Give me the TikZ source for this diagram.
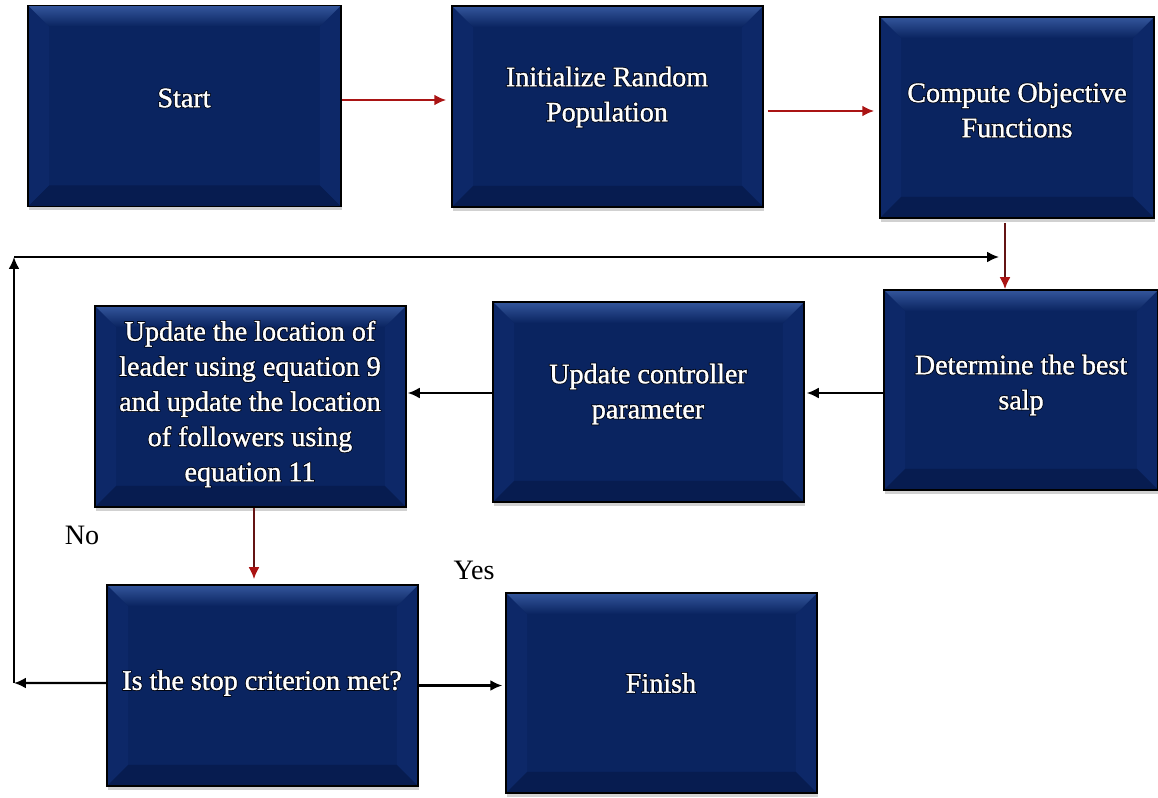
\documentclass[tikz,border=0pt]{standalone}
\usepackage{fontspec}
\setmainfont{Liberation Serif}
\newfontfamily\glowfont[FakeBold=7]{Liberation Serif}
\newfontfamily\capfont[FakeBold=1.2]{Liberation Serif}
\usetikzlibrary{arrows.meta,shadows}

\definecolor{boxface}{RGB}{10,36,96}
\definecolor{bevtop}{RGB}{52,86,156}
\definecolor{bevside}{RGB}{13,40,104}
\definecolor{bevbottom}{RGB}{7,28,80}
\definecolor{textglow}{RGB}{0,3,14}
\definecolor{flowred}{RGB}{170,20,20}
\definecolor{flowdark}{RGB}{100,20,20}

\newlength{\bev}
\setlength{\bev}{0.42cm}

% white caption with a dark halo underneath
\newcommand{\boxcaption}[3]{%
  \node[glowtext] (#1-glow) at #2 {#3};
  \node[whitetext] (#1-text) at #2 {#3};}

\tikzset{
  stepbox/.style={
    draw=black, line width=0.9pt, fill=boxface,
    minimum width=6.22cm, minimum height=4.02cm, inner sep=0pt,
    drop shadow={shadow xshift=0.02cm, shadow yshift=-0.08cm,
                 fill=black!30, opacity=0.6},
    path picture={
      \path (path picture bounding box.north west) coordinate (bbnw)
            (path picture bounding box.north east) coordinate (bbne)
            (path picture bounding box.south west) coordinate (bbsw)
            (path picture bounding box.south east) coordinate (bbse);
      \fill[bevside] (bbnw) -- ([shift={(\bev,-\bev)}]bbnw)
        -- ([shift={(\bev,\bev)}]bbsw) -- (bbsw) -- cycle;
      \fill[bevside] (bbne) -- ([shift={(-\bev,-\bev)}]bbne)
        -- ([shift={(-\bev,\bev)}]bbse) -- (bbse) -- cycle;
      \fill[bevbottom] (bbsw) -- ([shift={(\bev,\bev)}]bbsw)
        -- ([shift={(-\bev,\bev)}]bbse) -- (bbse) -- cycle;
      \shade[top color=bevtop, bottom color=boxface]
        (bbnw) -- (bbne) -- ([shift={(-\bev,-\bev)}]bbne)
        -- ([shift={(\bev,-\bev)}]bbnw) -- cycle;
    }},
  whitetext/.style={text=white, align=center, inner sep=0pt,
    font=\capfont\fontsize{16}{20}\selectfont},
  glowtext/.style={text=textglow, align=center, inner sep=0pt,
    font=\glowfont\fontsize{16}{20}\selectfont},
  plainlabel/.style={text=black, inner sep=0pt,
    font=\fontsize{16}{20}\selectfont},
  redflow/.style={draw=flowred, line width=1.6pt,
    -{Latex[length=2.4mm,width=2.2mm]}},
  darkflow/.style={draw=flowdark, line width=1.3pt,
    -{Latex[length=2.4mm,width=2.2mm,color=flowred]}},
  blackflow/.style={draw=black, line width=1.2pt,
    -{Latex[length=2.4mm,width=2.2mm]}},
}

\begin{document}
\begin{tikzpicture}[x=0.02cm,y=-0.02cm]
\useasboundingbox (0,0) rectangle (1158,797);

% process boxes
\node[stepbox, minimum width=6.26cm] (start) at (184.5,106) {};
\node[stepbox] (init) at (607.5,106.5) {};
\node[stepbox, minimum width=5.48cm] (compute) at (1017,117.5) {};
\node[stepbox, minimum width=5.48cm, minimum height=4.0cm] (best) at (1021,390) {};
\node[stepbox, minimum height=4.0cm] (ctrl) at (648.5,402) {};
\node[stepbox] (update) at (250.5,406.5) {};
\node[stepbox] (stop) at (262.5,685.5) {};
\node[stepbox, minimum height=4.0cm] (finish) at (661.5,693) {};

% captions
\boxcaption{start}{(184,98)}{Start}
\boxcaption{init}{(607,97)}{Initialize Random\\Population}
\boxcaption{compute}{(1017,110)}{Compute Objective\\Functions}
\boxcaption{best}{(1021,385)}{Determine the best\\salp}
\boxcaption{ctrl}{(648,394)}{Update controller\\parameter}
\boxcaption{update}{(250,404)}{Update the location of\\leader using equation 9\\and update the location\\of followers using\\equation 11}
\boxcaption{stop}{(262,683)}{Is the stop criterion met?}
\boxcaption{finish}{(661,683)}{Finish}

% branch labels
\node[plainlabel] (no) at (82,535) {No};
\node[plainlabel] (yes) at (474,570) {Yes};

% main flow
\coordinate (p1) at ([yshift=0.12cm]start.east);
\draw[redflow, shorten >=0.1cm] (p1) -- (p1 -| init.west);
\coordinate (p2) at ([yshift=-0.09cm]init.east);
\draw[redflow, shorten <=0.08cm, shorten >=0.1cm] (p2) -- (p2 -| compute.west);
\coordinate (p3) at ([xshift=-0.24cm]compute.south);
\draw[darkflow, shorten <=0.08cm] (p3) -- (p3 |- best.north);
\coordinate (p4) at ([yshift=-0.06cm]best.west);
\draw[blackflow, shorten >=0.04cm] (p4) -- (p4 -| ctrl.east);
\coordinate (p5) at (p4 -| ctrl.west);
\draw[blackflow, shorten >=0.02cm] (p5) -- (p5 -| update.east);
\coordinate (p6) at ([xshift=0.07cm]update.south);
\draw[darkflow, shorten >=0.1cm] (p6) -- (p6 |- stop.north);
\draw[blackflow, shorten >=0.06cm] (stop.east) -- (stop.east -| finish.west);

% loop back on "No"
\coordinate (p7) at ([yshift=0.05cm]stop.west);
\coordinate (l1) at (14,683);
\coordinate (l2) at (14,257);
\coordinate (l3) at (999,257);
\draw[blackflow] (p7) -- (l1);
\draw[blackflow] (l1) -- (l2);
\draw[blackflow] (l2) -- (l3);
\end{tikzpicture}
\end{document}
